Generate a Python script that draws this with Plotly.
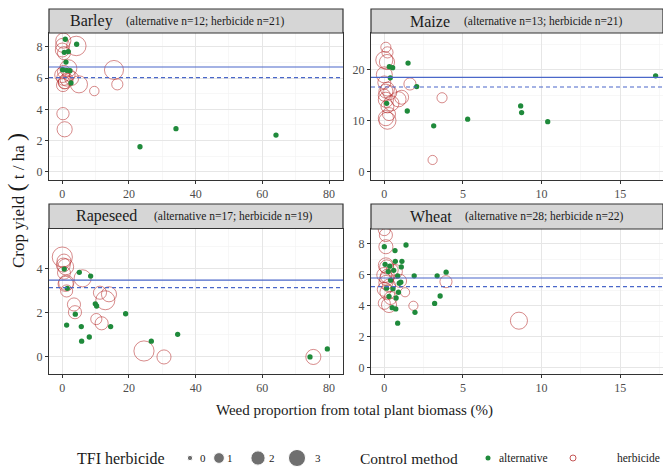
import plotly.graph_objects as go
import math

W, H = 663, 467
FONT = "Liberation Serif, Times New Roman, serif"

crops = ["Barley", "Maize", "Rapeseed", "Wheat"]
n_alt = {"Barley": 12, "Maize": 13, "Rapeseed": 17, "Wheat": 28}
n_herb = {"Barley": 21, "Maize": 21, "Rapeseed": 19, "Wheat": 22}

# ---- alternative (TFI herbicide = 0) ----
barley_alt_x = [0.9, 4.3, 0.6, 1.8, 1.1, 0.1, 2.3, 1.3, 2.6, 23.3, 34.1, 64.1]
barley_alt_y = [8.49, 8.17, 7.65, 7.7, 7.03, 6.54, 6.47, 6.5, 5.69, 1.6, 2.76, 2.35]
maize_alt_x = [0.32, 0.53, 1.51, 0.38, 2.06, 0.15, 1.46, 3.14, 5.3, 8.67, 8.73, 10.39, 17.25]
maize_alt_y = [20.6, 20.4, 21.3, 18.4, 16.7, 13.4, 11.9, 9.0, 10.3, 12.9, 11.6, 9.8, 18.8]
rape_alt_x = [0.6, 5.1, 8.5, 1.5, 9.9, 10.3, 3.9, 19.0, 1.3, 5.7, 14.5, 5.8, 8.1, 26.7, 34.6, 74.3, 79.5]
rape_alt_y = [3.97, 3.82, 3.65, 3.1, 2.4, 2.3, 1.93, 1.95, 1.44, 1.37, 1.37, 0.71, 0.9, 0.71, 1.02, 0.0, 0.36]
wheat_alt_x = [0.0, 0.68, 1.38, 0.05, 0.7, 1.12, 1.08, 0.35, 0.6, 0.85, 1.9, 3.36, 3.93, 0.14,
               0.95, 1.05, 0.9, 0.3, 3.55, 0.75, 3.2, 0.5, 0.73, 1.95, 0.85, 0.4, 0.25, 0.55]
wheat_alt_y = [7.8, 7.55, 7.91, 6.67, 6.86, 6.86, 6.5, 6.55, 6.28, 5.92, 5.93, 5.93, 6.16, 5.13,
               5.45, 5.52, 4.87, 4.6, 4.63, 4.5, 4.15, 3.88, 3.8, 3.58, 2.88, 5.65, 6.2, 5.1]

# ---- herbicide ----
barley_herb_x = [0.3, 0.1, 0.0, 0.5, 4.2, 1.8, 0.0, 0.4, 0.9, 0.2, 1.3, 2.8, 5.0, 9.6, 15.5, 16.5, 0.2, 0.7, 0.5, 2.0, 0.6]
barley_herb_y = [8.4, 8.1, 7.8, 7.6, 8.06, 6.63, 6.2, 5.98, 5.77, 5.55, 5.9, 5.98, 5.6, 5.17, 6.52, 5.6, 3.72, 2.72, 6.4, 6.2, 5.7]
barley_herb_tfi = [2.3, 1.9, 1.9, 1.6, 4.0, 3.0, 2.3, 1.9, 1.9, 1.6, 1.6, 1.9, 3.0, 0.7, 3.8, 1.1, 1.4, 2.3, 1.6, 1.4, 1.4]
maize_herb_x = [0.1, 0.2, 0.0, 0.17, 0.0, 0.2, 0.0, 0.35, 0.1, 0.45, 0.2, 1.1, 0.9, 1.63, 3.67, 3.07, 0.2, 0.1, 0.3, 0.0, 0.1]
maize_herb_y = [24.4, 23.4, 21.9, 21.5, 19.0, 16.2, 15.0, 15.5, 14.1, 13.4, 12.8, 14.6, 14.2, 17.2, 14.5, 2.3, 10.0, 10.5, 11.3, 17.5, 15.8]
maize_herb_tfi = [0.85, 1.1, 3.0, 2.3, 2.6, 1.9, 1.35, 1.9, 2.3, 2.3, 1.6, 1.9, 2.3, 1.35, 0.85, 0.64, 3.0, 2.3, 1.6, 1.6, 1.9]
rape_herb_x = [0.0, 0.5, 1.0, 0.5, 1.2, 1.0, 1.3, 6.1, 3.5, 3.8, 11.3, 14.0, 12.9, 10.2, 11.8, 24.5, 30.5, 75.3, 0.3]
rape_herb_y = [4.51, 4.33, 4.07, 3.8, 3.35, 3.3, 2.98, 3.55, 2.37, 2.02, 2.9, 2.83, 2.56, 1.71, 1.52, 0.27, 0.0, 0.0, 4.15]
rape_herb_tfi = [4.3, 1.9, 2.6, 1.6, 2.3, 2.3, 1.35, 3.0, 1.64, 1.64, 1.64, 2.27, 3.8, 1.1, 1.64, 4.3, 1.94, 2.27, 1.9]
wheat_herb_x = [0.0, 0.1, 0.1, 0.1, 0.15, 0.0, 0.2, 0.1, 0.0, 0.2, 0.0, 0.3, 0.7, 1.0, 1.32, 1.85, 3.92, 8.56, 0.5, 0.3, 0.15, 0.4]
wheat_herb_y = [8.9, 8.55, 7.8, 6.6, 6.5, 5.98, 5.9, 5.5, 5.06, 4.87, 4.16, 4.05, 6.2, 5.6, 4.87, 4.0, 5.55, 3.04, 6.3, 5.3, 5.75, 4.5]
wheat_herb_tfi = [1.35, 1.64, 1.94, 2.27, 1.94, 2.27, 1.94, 1.94, 1.94, 2.27, 1.35, 2.27, 1.94, 1.64, 0.64, 0.64, 1.35, 3.0, 1.35, 1.64, 1.94, 1.64]

# mean lines: solid = herbicide, dashed = alternative
mean_solid = {"Barley": 6.71, "Maize": 18.5, "Rapeseed": 3.47, "Wheat": 5.79}
mean_dashed = {"Barley": 6.03, "Maize": 16.6, "Rapeseed": 3.13, "Wheat": 5.23}

legend_tfi = [0, 1, 2, 3]

data = {
    "Barley": (barley_alt_x, barley_alt_y, barley_herb_x, barley_herb_y, barley_herb_tfi),
    "Maize": (maize_alt_x, maize_alt_y, maize_herb_x, maize_herb_y, maize_herb_tfi),
    "Rapeseed": (rape_alt_x, rape_alt_y, rape_herb_x, rape_herb_y, rape_herb_tfi),
    "Wheat": (wheat_alt_x, wheat_alt_y, wheat_herb_x, wheat_herb_y, wheat_herb_tfi),
}

def size_of(t):
    return math.sqrt(28 + 88 * t)

GREEN = "#1f8a3b"
RED = "rgba(178,34,34,0.75)"
BLUE = "#4a67c9"

# panel geometry in pixels: (left, right, top, bottom, strip_top)
geo = {
    "Barley": (49, 343, 33, 180, 9),
    "Maize": (371, 663, 33, 180, 9),
    "Rapeseed": (49, 343, 228.5, 374, 204),
    "Wheat": (371, 663, 229, 374, 204),
}
xr = {"Barley": [-3.99, 84.2], "Maize": [-0.846, 17.72], "Rapeseed": [-3.99, 84.2], "Wheat": [-0.846, 17.72]}
yr = {"Barley": [-0.53, 8.89], "Maize": [-1.63, 27.2], "Rapeseed": [-0.77, 5.8], "Wheat": [-0.39, 8.94]}
xdt = {"Barley": 20, "Maize": 5, "Rapeseed": 20, "Wheat": 5}
ydt = {"Barley": 2, "Maize": 10, "Rapeseed": 2, "Wheat": 2}
# strip text positions (px): title left, subtitle left
strip_txt = {"Barley": (68, 124), "Maize": (408, 462), "Rapeseed": (74, 152), "Wheat": (408, 463)}

fig = go.Figure()
shapes, annotations = [], []
layout = {}

for i, c in enumerate(crops, start=1):
    sfx = "" if i == 1 else str(i)
    xa, ya = "x" + sfx, "y" + sfx
    ax_x, ay_y, hx, hy, ht = data[c]
    fig.add_trace(go.Scatter(x=hx, y=hy, mode="markers", xaxis=xa, yaxis=ya, showlegend=False,
                             marker=dict(symbol="circle-open", size=[size_of(t) for t in ht],
                                         color=RED, line=dict(width=1, color=RED))))
    fig.add_trace(go.Scatter(x=ax_x, y=ay_y, mode="markers", xaxis=xa, yaxis=ya, showlegend=False,
                             marker=dict(symbol="circle", size=size_of(0), color=GREEN, line=dict(width=0))))
    l, r, t, b, st = geo[c]
    common = dict(showgrid=True, gridcolor="#e6e6e6", gridwidth=1, zeroline=False,
                  showline=True, mirror=True, linecolor="#333333", linewidth=1,
                  ticks="outside", ticklen=3, tickcolor="#333333", tickwidth=1,
                  tickfont=dict(family=FONT, size=12, color="#4d4d4d"))
    layout["xaxis" + sfx] = dict(domain=[l / W, r / W], range=xr[c], anchor=ya, dtick=xdt[c], tick0=0,
                                 minor=dict(dtick=xdt[c] / 2, showgrid=True, gridcolor="#f2f2f2", gridwidth=0.6),
                                 **common)
    layout["yaxis" + sfx] = dict(domain=[1 - b / H, 1 - t / H], range=yr[c], anchor=xa, dtick=ydt[c], tick0=0,
                                 minor=dict(dtick=ydt[c] / 2, showgrid=True, gridcolor="#f2f2f2", gridwidth=0.6),
                                 **common)
    # mean lines
    shapes.append(dict(type="line", xref=xa + " domain", yref=ya, x0=0, x1=1,
                       y0=mean_solid[c], y1=mean_solid[c], line=dict(color=BLUE, width=1.1)))
    shapes.append(dict(type="line", xref=xa + " domain", yref=ya, x0=0, x1=1,
                       y0=mean_dashed[c], y1=mean_dashed[c], line=dict(color=BLUE, width=1.1, dash="4px,3px")))
    # strip
    shapes.append(dict(type="rect", xref="paper", yref="paper", x0=l / W, x1=r / W,
                       y0=1 - t / H, y1=1 - st / H, fillcolor="#d6d6d6",
                       line=dict(color="#333333", width=1.2), layer="above"))
    tx, sx = strip_txt[c]
    ym = 1 - (st + t) / 2 / H
    annotations.append(dict(text=c, xref="paper", yref="paper", x=tx / W, y=ym, xanchor="left",
                            yanchor="middle", showarrow=False, font=dict(family=FONT, size=16, color="#1a1a1a")))
    annotations.append(dict(text=f"(alternative n={n_alt[c]}; herbicide n={n_herb[c]})", xref="paper", yref="paper",
                            x=sx / W, y=ym, xanchor="left", yanchor="middle", showarrow=False,
                            font=dict(family=FONT, size=11.5, color="#1a1a1a")))

# axis titles
annotations.append(dict(text="Weed proportion from total plant biomass (%)", xref="paper", yref="paper",
                        x=354 / W, y=1 - 410 / H, xanchor="center", yanchor="middle", showarrow=False,
                        font=dict(family=FONT, size=15, color="#1a1a1a")))
annotations.append(dict(text="Crop yield <span style='font-size:24px'>(</span> t / ha <span style='font-size:24px'>)</span>",
                        xref="paper", yref="paper", x=16 / W, y=1 - 201 / H, xanchor="center", yanchor="middle",
                        textangle=-90, showarrow=False, font=dict(family=FONT, size=17, color="#1a1a1a")))

# manual legend on an invisible axis measured in pixels
layout["xaxis5"] = dict(domain=[0, 1], range=[0, W], visible=False, anchor="y5")
layout["yaxis5"] = dict(domain=[0, 18 / H], range=[0, 1], visible=False, anchor="x5")
leg_key_x = [190, 219, 258, 297]
leg_lab_x = [203, 230, 272, 318]
fig.add_trace(go.Scatter(x=leg_key_x, y=[0.5] * 4, mode="markers", xaxis="x5", yaxis="y5", showlegend=False,
                         marker=dict(symbol="circle", size=[size_of(t) for t in legend_tfi], color="#333333"),
                         cliponaxis=False))
for lx, t in zip(leg_lab_x, legend_tfi):
    annotations.append(dict(text=str(t), xref="x5", yref="y5", x=lx, y=0.5, xanchor="center", yanchor="middle",
                            showarrow=False, font=dict(family=FONT, size=11, color="#1a1a1a")))
annotations.append(dict(text="TFI herbicide", xref="x5", yref="y5", x=75, y=0.5, xanchor="left", yanchor="middle",
                        showarrow=False, font=dict(family=FONT, size=16, color="#1a1a1a")))
annotations.append(dict(text="Control method", xref="x5", yref="y5", x=358, y=0.5, xanchor="left", yanchor="middle",
                        showarrow=False, font=dict(family=FONT, size=15.5, color="#1a1a1a")))
fig.add_trace(go.Scatter(x=[488], y=[0.5], mode="markers", xaxis="x5", yaxis="y5", showlegend=False,
                         marker=dict(symbol="circle", size=5, color=GREEN), cliponaxis=False))
fig.add_trace(go.Scatter(x=[573], y=[0.5], mode="markers", xaxis="x5", yaxis="y5", showlegend=False,
                         marker=dict(symbol="circle-open", size=6, color=RED, line=dict(width=1, color=RED)),
                         cliponaxis=False))
annotations.append(dict(text="alternative", xref="x5", yref="y5", x=497, y=0.5, xanchor="left", yanchor="middle",
                        showarrow=False, font=dict(family=FONT, size=11.5, color="#1a1a1a")))
annotations.append(dict(text="herbicide", xref="x5", yref="y5", x=615, y=0.5, xanchor="left", yanchor="middle",
                        showarrow=False, font=dict(family=FONT, size=11.5, color="#1a1a1a")))

fig.update_layout(width=W, height=H, margin=dict(l=0, r=0, t=0, b=0), paper_bgcolor="white",
                  plot_bgcolor="white", shapes=shapes, annotations=annotations, showlegend=False,
                  hovermode=False, font=dict(family=FONT), **layout)

fig.write_html("out.html", config={"displayModeBar": False, "staticPlot": True},
               post_script="document.body.style.margin='0';document.body.style.overflow='hidden';")
